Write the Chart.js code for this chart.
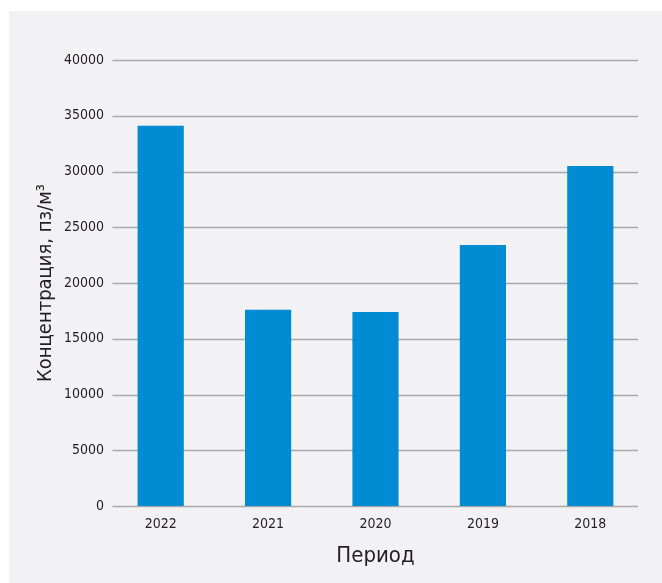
<!DOCTYPE html>
<html>
<head>
<meta charset="utf-8">
<script src="https://cdn.jsdelivr.net/npm/chart.js@4/dist/chart.umd.min.js"></script>
<style>
  html, body { margin: 0; padding: 0; background: #ffffff; }
  #wrap { width: 662px; height: 583px; position: relative; }
</style>
</head>
<body>
<div id="wrap"><canvas id="c" width="662" height="583"></canvas></div>
<script>
const categories = ["2022", "2021", "2020", "2019", "2018"];
const concentration = [34100, 17600, 17400, 23400, 30500];
const yTicks = [0, 5000, 10000, 15000, 20000, 25000, 30000, 35000, 40000];
const xTitle = "Период";
const yTitle = "Концентрация, пз/м³";

const FONT = '"Liberation Sans Narrow", "DejaVu Sans Condensed", "Roboto Condensed", sans-serif';
const TEXT = '#231f20';

const panelPlugin = {
  id: 'panel',
  beforeDraw(chart) {
    const ctx = chart.ctx;
    ctx.save();
    ctx.fillStyle = '#ffffff';
    ctx.fillRect(0, 0, chart.width, chart.height);
    ctx.fillStyle = '#f2f2f4';
    ctx.fillRect(9, 11, chart.width - 9, chart.height - 11);
    ctx.restore();
  },
  beforeDatasetsDraw(chart) {
    const ctx = chart.ctx;
    const y = chart.scales.y;
    ctx.save();
    ctx.strokeStyle = '#a9a9ab';
    ctx.lineWidth = 1.6;
    yTicks.forEach(v => {
      const py = Math.round(y.getPixelForValue(v)) + 0.5;
      ctx.beginPath();
      ctx.moveTo(112.5, py);
      ctx.lineTo(638, py);
      ctx.stroke();
    });
    ctx.restore();
  }
};

new Chart(document.getElementById('c'), {
  type: 'bar',
  data: {
    labels: categories,
    datasets: [{
      data: concentration,
      backgroundColor: '#008bd2',
      borderWidth: 0,
      barPercentage: 0.43,
      categoryPercentage: 1.0
    }]
  },
  options: {
    responsive: false,
    animation: false,
    devicePixelRatio: 1,
    layout: { padding: { left: 9, right: 18, top: 60, bottom: 0 } },
    plugins: { legend: { display: false }, tooltip: { enabled: false } },
    scales: {
      x: {
        grid: { display: false, drawTicks: false },
        border: { display: false },
        ticks: { color: TEXT, font: { family: FONT, size: 14 }, padding: 10 },
        title: { display: true, text: xTitle, color: TEXT, font: { family: FONT, size: 22 }, padding: { top: 0, bottom: 14 } },
        afterFit(s) { s.height = 77; }
      },
      y: {
        min: 0, max: 40000,
        afterBuildTicks(s) { s.ticks = yTicks.map(v => ({ value: v })); },
        grid: { display: false, drawTicks: false },
        border: { display: false },
        ticks: { color: TEXT, font: { family: FONT, size: 14 }, padding: 3, callback: v => String(v) },
        title: { display: true, text: yTitle, color: TEXT, font: { family: FONT, size: 20 }, padding: { top: 25, bottom: 0 } },
        afterFit(s) { s.width = 98; }
      }
    }
  },
  plugins: [panelPlugin]
});
</script>
</body>
</html>
